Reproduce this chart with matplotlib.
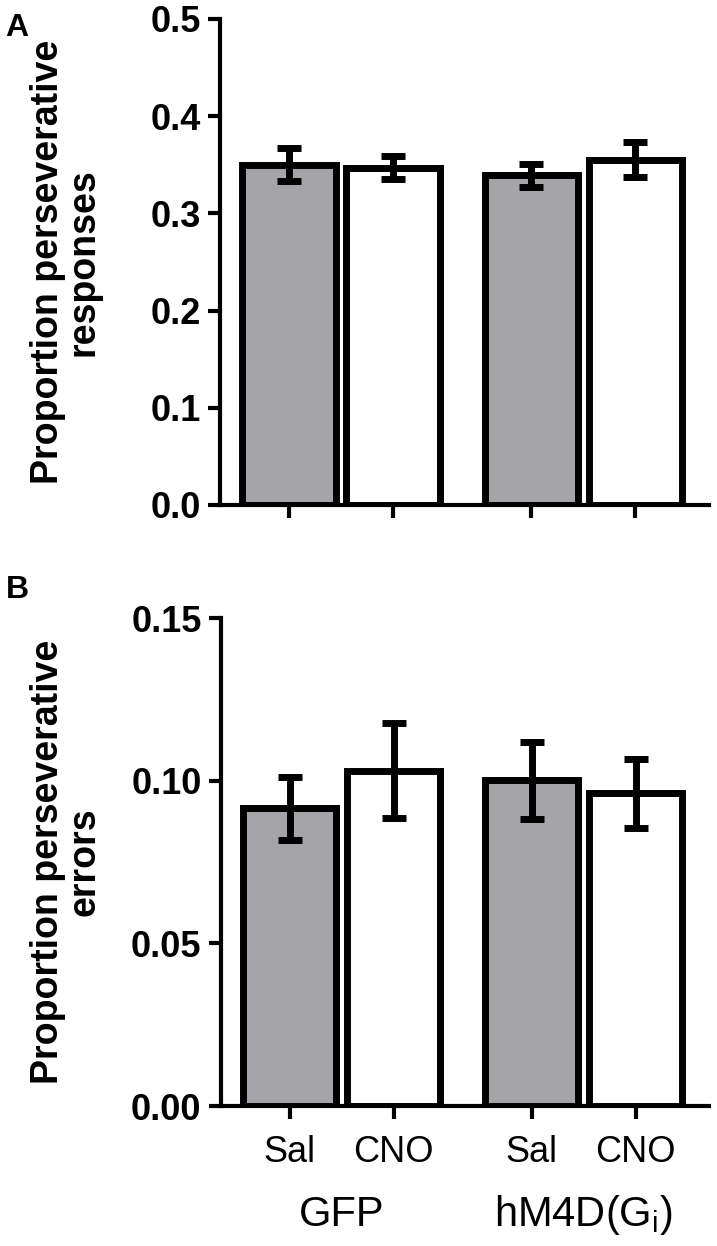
import matplotlib
matplotlib.use("Agg")
import matplotlib.pyplot as plt
import matplotlib.transforms as mtransforms
from matplotlib.ticker import FormatStrFormatter

plt.rcParams['font.family'] = ['Liberation Sans', 'DejaVu Sans']
plt.rcParams['mathtext.fontset'] = 'custom'
plt.rcParams['mathtext.rm'] = 'Liberation Sans'
plt.rcParams['mathtext.it'] = 'Liberation Sans:italic'

# ---- data ----
conditions = ["Sal", "CNO", "Sal", "CNO"]
groups = ["GFP", "hM4D(G$_\\mathrm{i}$)"]
positions = [0.0, 1.0, 2.33, 3.33]
group_centers = [0.5, 2.83]

resp_mean = [0.350, 0.347, 0.339, 0.355]
resp_sem = [0.017, 0.012, 0.012, 0.018]

err_mean = [0.0915, 0.1031, 0.1001, 0.0962]
err_sem = [0.0097, 0.0146, 0.0118, 0.0106]

fill_colors = ["#a5a4a9", "#ffffff", "#a5a4a9", "#ffffff"]

fig = plt.figure(figsize=(7.17, 12.46), dpi=100)

axA = fig.add_axes([220/717, 1-505/1246, 489/717, 486/1246])
axB = fig.add_axes([221/717, 1-1106/1246, 488/717, 488/1246])


def draw(ax, means, sems, ylim, yticks, fmt):
    ax.bar(positions, means, width=0.895, color=fill_colors, edgecolor="black",
           linewidth=5.0, zorder=2)
    ax.errorbar(positions, means, yerr=sems, fmt="none", ecolor="black",
                elinewidth=5.0, capsize=8.5, capthick=5.0, zorder=3)
    ax.set_xlim(-0.663, 4.038)
    ax.set_ylim(*ylim)
    ax.set_yticks(yticks)
    ax.yaxis.set_major_formatter(FormatStrFormatter(fmt))
    ax.set_xticks(positions)
    for s in ["top", "right"]:
        ax.spines[s].set_visible(False)
    for s in ["left", "bottom"]:
        ax.spines[s].set_linewidth(3.0)
    ax.tick_params(axis="both", direction="out", length=9, width=3.0)
    ax.tick_params(axis="y", labelsize=26, pad=5)
    for lab in ax.get_yticklabels():
        lab.set_fontweight("bold")


draw(axA, resp_mean, resp_sem, (0, 0.5), [0, 0.1, 0.2, 0.3, 0.4, 0.5], "%.1f")
axA.set_xticklabels([])

draw(axB, err_mean, err_sem, (0, 0.15), [0, 0.05, 0.10, 0.15], "%.2f")
axB.set_xticklabels(conditions, fontsize=26)
axB.tick_params(axis="x", pad=12)

trans = mtransforms.blended_transform_factory(axB.transData, fig.transFigure)
for gx, g in zip(group_centers, groups):
    axB.text(gx, 1-1215/1246, g, transform=trans, ha="center", va="center",
             fontsize=30)

fig.text(66/717, 1-262/1246, "Proportion perseverative\nresponses", rotation=90,
         ha="center", va="center", fontsize=27, fontweight="bold",
         multialignment="center", linespacing=1.0)
fig.text(66/717, 1-862/1246, "Proportion perseverative\nerrors", rotation=90,
         ha="center", va="center", fontsize=27, fontweight="bold",
         multialignment="center", linespacing=1.0)

fig.text(17/717, 1-28/1246, "A", ha="center", va="center", fontsize=23,
         fontweight="bold")
fig.text(17/717, 1-590/1246, "B", ha="center", va="center", fontsize=23,
         fontweight="bold")

fig.savefig("out.png", dpi=100)
